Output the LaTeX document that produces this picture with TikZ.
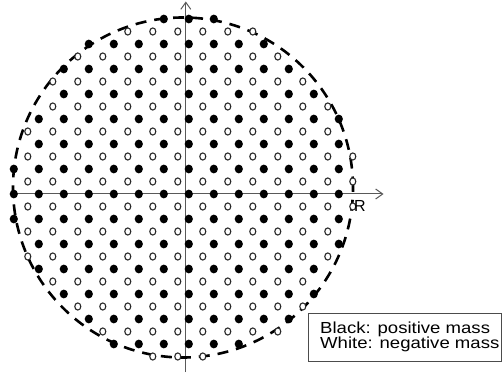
\documentclass[tikz,border=0pt]{standalone}
\usepackage{fontspec}
\newfontfamily\legendfont[FakeStretch=1.16]{Liberation Sans}
\newfontfamily\labelfont{Liberation Sans}
\usetikzlibrary{arrows.meta}

\tikzset{
  posmass/.style={fill=black},
  negmass/.style={draw=black!85, fill=white, line width=1.1pt},
  axisline/.style={draw=black!65, line width=1pt, -{Straight Barb[length=7pt,width=10pt]}},
  boundary/.style={line width=2.6pt, dash pattern=on 11pt off 8pt},
}

\begin{document}
\begin{tikzpicture}[x=1pt,y=1pt]
\useasboundingbox (-188.8,194) rectangle (313.2,-180);

% axes
\coordinate (xstart) at (-178.8,0);
\coordinate (xend) at (194.7,0);
\coordinate (ystart) at (-3,-178);
\coordinate (yend) at (-3,192.5);
\draw[axisline] (xstart) -- (xend);
\draw[axisline] (ystart) -- (yend);

\draw[boundary] (-5.8,6.5) circle (170);

% positive masses
\foreach \m/\a/\b in {7/-1/1, 6/-4/3, 5/-5/4, 4/-5/5, 3/-6/6, 2/-6/6, 1/-7/6, 0/-7/6,
                      -1/-7/6, -2/-6/6, -3/-6/5, -4/-5/5, -5/-4/4, -6/-3/2}
  \foreach \k in {\a,...,\b}
    \fill[posmass] (25*\k,25*\m) ellipse (4.1 and 4.4);

% negative masses
\foreach \m/\a/\b in {6/-3/2, 5/-5/3, 4/-6/4, 3/-6/5, 2/-7/5, 1/-7/6, 0/-7/6,
                      -1/-7/6, -2/-7/5, -3/-7/5, -4/-6/4, -5/-5/4, -6/-4/3, -7/-2/0}
  \foreach \k in {\a,...,\b}
    \filldraw[negmass] (25*\k+14,25*\m+12.5) ellipse (3 and 3.6);

\node[font=\labelfont\fontsize{16}{16}\selectfont] (rlabel) at (171,-11.5) {R};

% legend
\draw[draw=black!70, line width=0.9pt] (119.7,-119.5) rectangle (312.7,-167.5);
\node[anchor=north west, inner sep=0pt, align=left,
      font=\legendfont\fontsize{16}{15}\selectfont] (legend) at (131.2,-127.7)
  {Black: positive mass\\White: negative mass};

\end{tikzpicture}
\end{document}
